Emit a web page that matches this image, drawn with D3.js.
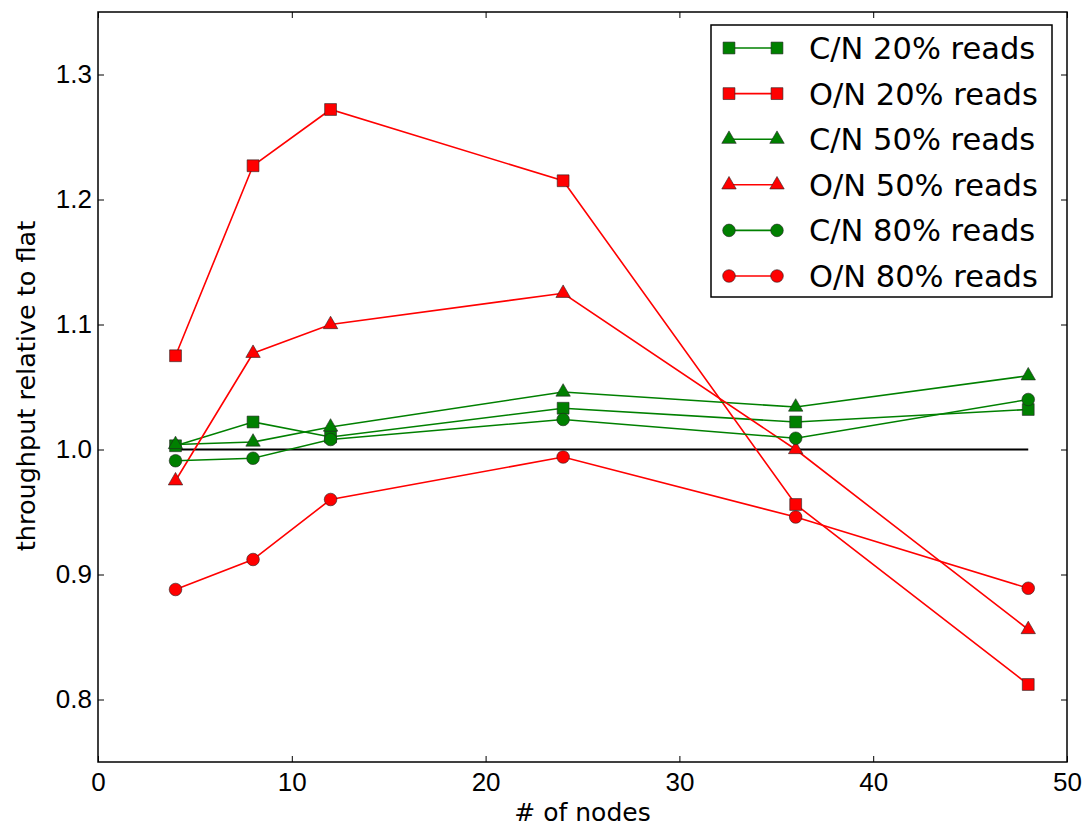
<!DOCTYPE html>
<html>
<head>
<meta charset="utf-8">
<script src="https://cdn.jsdelivr.net/npm/d3@7"></script>
<style>
  body { margin: 0; background: #fff; }
  svg { font-family: "DejaVu Sans", sans-serif; }
</style>
</head>
<body>
<svg id="chart" width="1087" height="826"></svg>
<script>
// node counts on x
var nodes = [4, 8, 12, 24, 36, 48];

// throughput relative to flat
var cn20 = [1.003, 1.022, 1.010, 1.033, 1.022, 1.032];
var on20 = [1.075, 1.227, 1.272, 1.215, 0.956, 0.812];
var cn50 = [1.004, 1.006, 1.018, 1.046, 1.034, 1.059];
var on50 = [0.975, 1.077, 1.100, 1.125, 1.000, 0.856];
var cn80 = [0.991, 0.993, 1.008, 1.024, 1.009, 1.040];
var on80 = [0.888, 0.912, 0.960, 0.994, 0.946, 0.889];
var flat = [1.0, 1.0, 1.0, 1.0, 1.0, 1.0];

var xTicks = [0, 10, 20, 30, 40, 50];
var yTicks = [0.8, 0.9, 1.0, 1.1, 1.2, 1.3];

var series = [
  { name: "C/N 20% reads", values: cn20, color: "#008000", marker: "square" },
  { name: "O/N 20% reads", values: on20, color: "#ff0000", marker: "square" },
  { name: "C/N 50% reads", values: cn50, color: "#008000", marker: "triangle" },
  { name: "O/N 50% reads", values: on50, color: "#ff0000", marker: "triangle" },
  { name: "C/N 80% reads", values: cn80, color: "#008000", marker: "circle" },
  { name: "O/N 80% reads", values: on80, color: "#ff0000", marker: "circle" }
];

var margin = { top: 12, right: 20, bottom: 64, left: 98 };
var width = 1067 - margin.left;
var height = 762 - margin.top;

var svg = d3.select("#chart");
var g = svg.append("g")
  .attr("transform", "translate(" + margin.left + "," + margin.top + ")");

var x = d3.scaleLinear().domain([0, 50]).range([0, width]);
var y = d3.scaleLinear().domain([0.75, 1.35]).range([height, 0]);

// axes, ticks pointing inward like matplotlib
var fmt = d3.format(".1f");
function styleAxis(sel) {
  sel.select(".domain").remove();
  sel.selectAll("line").attr("stroke", "#000").attr("stroke-width", 1);
  sel.selectAll("text").attr("font-size", 26).attr("fill", "#000");
}

g.append("g")
  .attr("transform", "translate(0," + height + ")")
  .call(d3.axisBottom(x).tickValues(xTicks).tickSize(-6).tickPadding(11))
  .call(styleAxis);
g.append("g")
  .call(d3.axisTop(x).tickValues(xTicks).tickSize(-6).tickFormat(""))
  .call(styleAxis);
g.append("g")
  .call(d3.axisLeft(y).tickValues(yTicks).tickSize(-6).tickPadding(6).tickFormat(fmt))
  .call(styleAxis);
g.append("g")
  .attr("transform", "translate(" + width + ",0)")
  .call(d3.axisRight(y).tickValues(yTicks).tickSize(-6).tickFormat(""))
  .call(styleAxis);

// plot frame
g.append("rect")
  .attr("width", width)
  .attr("height", height)
  .attr("fill", "none")
  .attr("stroke", "#000")
  .attr("stroke-width", 1.5);

var line = d3.line()
  .x(function(d, i) { return x(nodes[i]); })
  .y(function(d) { return y(d); });

// flat baseline
g.append("path")
  .datum(flat)
  .attr("d", line)
  .attr("fill", "none")
  .attr("stroke", "#000")
  .attr("stroke-width", 2);

var symbols = {
  square: d3.symbol().type(d3.symbolSquare).size(140),
  triangle: d3.symbol().type(d3.symbolTriangle).size(90),
  circle: d3.symbol().type(d3.symbolCircle).size(125)
};

series.forEach(function(s) {
  var sg = g.append("g");
  sg.append("path")
    .datum(s.values)
    .attr("d", line)
    .attr("fill", "none")
    .attr("stroke", s.color)
    .attr("stroke-width", 1.6);
  sg.selectAll("path.pt")
    .data(s.values)
    .enter().append("path")
    .attr("class", "pt")
    .attr("d", symbols[s.marker])
    .attr("transform", function(d, i) { return "translate(" + x(nodes[i]) + "," + y(d) + ")"; })
    .attr("fill", s.color)
    .attr("stroke", "#222")
    .attr("stroke-width", 0.6);
});

// legend
var legend = svg.append("g").attr("transform", "translate(711,25)");
legend.append("rect")
  .attr("width", 341)
  .attr("height", 272)
  .attr("fill", "#fff")
  .attr("stroke", "#000")
  .attr("stroke-width", 1.5);

series.forEach(function(s, i) {
  var ly = 23 + i * 45.6;
  var row = legend.append("g").attr("transform", "translate(0," + ly + ")");
  row.append("line")
    .attr("x1", 18).attr("x2", 66)
    .attr("stroke", s.color)
    .attr("stroke-width", 1.6);
  [18, 66].forEach(function(px) {
    row.append("path")
      .attr("d", symbols[s.marker])
      .attr("transform", "translate(" + px + ",0)")
      .attr("fill", s.color)
      .attr("stroke", "#222")
      .attr("stroke-width", 0.6);
  });
  row.append("text")
    .attr("x", 98)
    .attr("dy", "0.36em")
    .attr("font-size", 30.5)
    .attr("fill", "#000")
    .text(s.name);
});

// axis labels
svg.append("text")
  .attr("x", margin.left + width / 2)
  .attr("y", 821)
  .attr("text-anchor", "middle")
  .attr("font-size", 25)
  .text("# of nodes");

svg.append("text")
  .attr("transform", "translate(35,386) rotate(-90)")
  .attr("text-anchor", "middle")
  .attr("font-size", 25.5)
  .text("throughput relative to flat");
</script>
</body>
</html>
